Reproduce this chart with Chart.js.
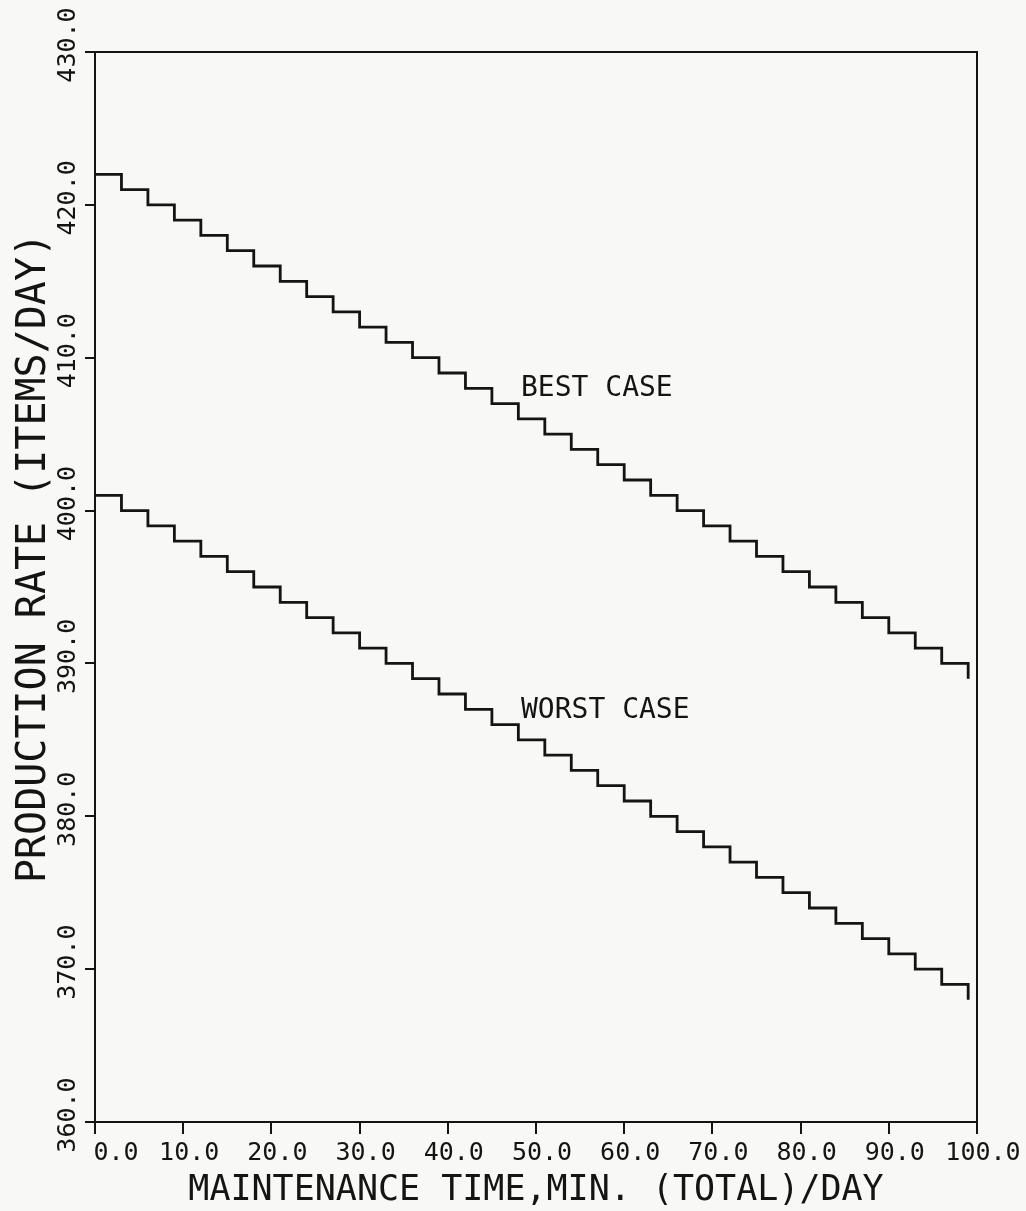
<!DOCTYPE html>
<html>
<head>
<meta charset="utf-8">
<title>Production rate vs maintenance time</title>
<script src="https://cdn.jsdelivr.net/npm/chart.js@4.4.1/dist/chart.umd.min.js"></script>
<style>
	html, body { margin: 0; padding: 0; background: #f8f8f6; }
	canvas { display: block; }
</style>
</head>
<body>
<canvas id="prodChart" width="1026" height="1211"></canvas>
<script>
// maintenance minutes where the rate drops by one item
const minutes = [0, 3, 6, 9, 12, 15, 18, 21, 24, 27, 30, 33, 36, 39, 42, 45, 48, 51, 54, 57, 60, 63, 66, 69, 72, 75, 78, 81, 84, 87, 90, 93, 96, 99];
const bestCase = [422, 421, 420, 419, 418, 417, 416, 415, 414, 413, 412, 411, 410, 409, 408, 407, 406, 405, 404, 403, 402, 401, 400, 399, 398, 397, 396, 395, 394, 393, 392, 391, 390, 389];
const worstCase = [401, 400, 399, 398, 397, 396, 395, 394, 393, 392, 391, 390, 389, 388, 387, 386, 385, 384, 383, 382, 381, 380, 379, 378, 377, 376, 375, 374, 373, 372, 371, 370, 369, 368];
const xTicks = [0, 10, 20, 30, 40, 50, 60, 70, 80, 90, 100];
const yTicks = [360, 370, 380, 390, 400, 410, 420, 430];
const seriesNames = ['BEST CASE', 'WORST CASE'];

const INK = '#141414';
const MONO = '"DejaVu Sans Mono", "Liberation Mono", monospace';

// labels written next to each staircase, in data units
const caseLabels = [
	{ text: seriesNames[0], x: 48.3, y: 407.5 },
	{ text: seriesNames[1], x: 48.3, y: 386.4 }
];

// plotter style extras: frame, rotated y labels, curve names
const plotterText = {
	id: 'plotterText',
	afterDraw(chart) {
		const { ctx, chartArea: a, scales: { x, y } } = chart;
		ctx.save();
		ctx.strokeStyle = INK;
		ctx.lineWidth = 2;
		ctx.strokeRect(a.left, a.top, a.right - a.left, a.bottom - a.top);

		ctx.fillStyle = INK;
		ctx.textAlign = 'center';
		ctx.textBaseline = 'alphabetic';
		ctx.font = '25px ' + MONO;
		y.ticks.forEach(t => {
			ctx.save();
			ctx.translate(a.left - 20, y.getPixelForValue(t.value) - 7);
			ctx.rotate(-Math.PI / 2);
			ctx.fillText(t.value.toFixed(1), 0, 0);
			ctx.restore();
		});

		ctx.font = '40px ' + MONO;
		ctx.save();
		ctx.translate(45, (a.top + a.bottom) / 2 - 29);
		ctx.rotate(-Math.PI / 2);
		ctx.fillText('PRODUCTION RATE (ITEMS/DAY)', 0, 0);
		ctx.restore();

		ctx.font = '28px ' + MONO;
		ctx.textAlign = 'left';
		caseLabels.forEach(l => ctx.fillText(l.text, x.getPixelForValue(l.x), y.getPixelForValue(l.y)));
		ctx.restore();
	}
};

const toPoints = vals => minutes.map((m, i) => ({ x: m, y: vals[i] }));

const ctx = document.getElementById('prodChart');
new Chart(ctx.getContext('2d'), {
	type: 'line',
	data: {
		datasets: [
			{ label: seriesNames[0], data: toPoints(bestCase), stepped: true, borderColor: INK, borderWidth: 2.8, pointRadius: 0, fill: false },
			{ label: seriesNames[1], data: toPoints(worstCase), stepped: true, borderColor: INK, borderWidth: 2.8, pointRadius: 0, fill: false }
		]
	},
	options: {
		responsive: false,
		animation: false,
		devicePixelRatio: 1,
		layout: { padding: { left: 85, right: 49, top: 52, bottom: 2 } },
		plugins: { legend: { display: false }, tooltip: { enabled: false } },
		scales: {
			x: {
				type: 'linear', min: 0, max: 100,
				afterBuildTicks: s => { s.ticks = xTicks.map(v => ({ value: v })); },
				grid: { drawOnChartArea: false, drawTicks: true, tickLength: 12, color: INK, lineWidth: 2 },
				border: { display: true, color: INK, width: 2 },
				// the plotter wrote "0.0" clear of the corner, hence the leading pad
				ticks: { color: INK, padding: 7, labelOffset: 6, maxRotation: 0, font: { family: MONO, size: 25, lineHeight: 1 }, callback: v => (v === 0 ? '  ' : '') + v.toFixed(1) },
				title: { display: true, text: 'MAINTENANCE TIME,MIN. (TOTAL)/DAY', color: INK, padding: { top: 0, bottom: 1 }, font: { family: MONO, size: 35, lineHeight: 1 } }
			},
			y: {
				type: 'linear', min: 360, max: 430,
				afterBuildTicks: s => { s.ticks = yTicks.map(v => ({ value: v })); },
				grid: { drawOnChartArea: false, drawTicks: true, tickLength: 10, color: INK, lineWidth: 2 },
				border: { display: true, color: INK, width: 2 },
				ticks: { display: false }
			}
		}
	},
	plugins: [plotterText]
});
</script>
</body>
</html>
